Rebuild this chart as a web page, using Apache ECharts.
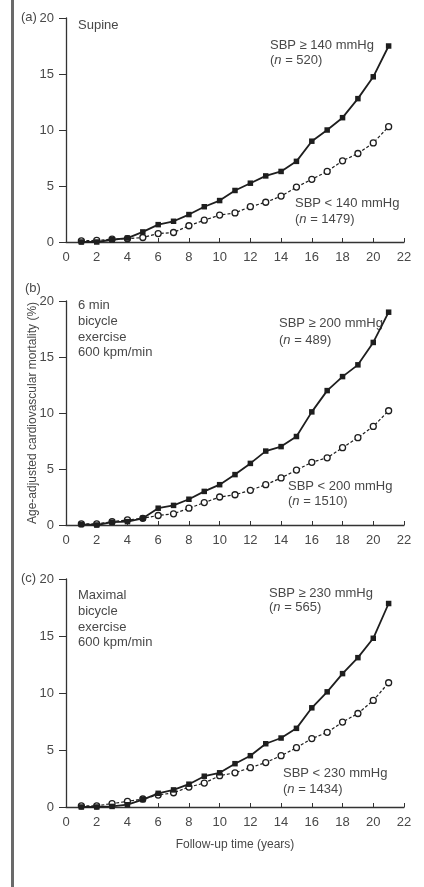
<!DOCTYPE html>
<html>
<head>
<meta charset="utf-8">
<style>
  html, body { margin: 0; padding: 0; background: #fff; }
  #chart { width: 424px; height: 887px; }
</style>
<script src="https://cdn.jsdelivr.net/npm/echarts@6/dist/echarts.min.js"></script>
</head>
<body>
<div id="chart"></div>
<script>
// follow-up years
const years = [1, 2, 3, 4, 5, 6, 7, 8, 9, 10, 11, 12, 13, 14, 15, 16, 17, 18, 19, 20, 21];

// (a) supine
const supineHigh = [0.0, 0.0, 0.2, 0.35, 0.9, 1.55, 1.85, 2.45, 3.15, 3.7, 4.6, 5.25, 5.9, 6.3, 7.2, 9.0, 10.0, 11.1, 12.8, 14.75, 17.5];
const supineLow = [0.1, 0.15, 0.25, 0.3, 0.4, 0.75, 0.85, 1.45, 1.95, 2.4, 2.6, 3.15, 3.55, 4.1, 4.9, 5.6, 6.3, 7.25, 7.9, 8.85, 10.3];

// (b) 6 min bicycle exercise
const sixMinHigh = [0.05, 0.0, 0.25, 0.3, 0.6, 1.5, 1.75, 2.3, 3.0, 3.6, 4.5, 5.5, 6.6, 7.0, 7.9, 10.1, 12.0, 13.25, 14.3, 16.3, 19.0];
const sixMinLow = [0.1, 0.1, 0.3, 0.45, 0.6, 0.85, 1.0, 1.5, 2.0, 2.5, 2.7, 3.1, 3.6, 4.2, 4.9, 5.6, 6.0, 6.9, 7.8, 8.8, 10.2];

// (c) maximal bicycle exercise
const maxHigh = [0.0, 0.0, 0.05, 0.2, 0.65, 1.2, 1.5, 2.0, 2.7, 3.0, 3.8, 4.5, 5.55, 6.05, 6.9, 8.7, 10.1, 11.7, 13.1, 14.8, 17.85];
const maxLow = [0.1, 0.1, 0.3, 0.5, 0.7, 1.05, 1.25, 1.75, 2.1, 2.75, 3.0, 3.45, 3.9, 4.5, 5.2, 6.0, 6.55, 7.45, 8.2, 9.35, 10.9];

const xTicks = { min: 0, max: 22, interval: 2 };
const yTicks = { min: 0, max: 20, interval: 5 };

const font = "Liberation Sans, Arial, sans-serif";
const ink = "#1e1e1e";
const textGray = "#484848";

const pairs = (vals) => years.map((y, i) => [y, vals[i]]);

const grids = [
  { left: 66, right: 20, top: 18, height: 224 },
  { left: 66, right: 20, top: 301, height: 224 },
  { left: 66, right: 20, top: 579, height: 228 },
];

function xAxisFor(i) {
  return {
    type: "value",
    gridIndex: i,
    min: xTicks.min,
    max: xTicks.max,
    interval: xTicks.interval,
    name: i === 2 ? "Follow-up time (years)" : "",
    nameLocation: "middle",
    nameGap: 32,
    nameMoveOverlap: false,
    nameTextStyle: { fontFamily: font, fontSize: 12, color: textGray },
    axisLine: { lineStyle: { color: "#333", width: 1.3 } },
    axisTick: { show: true, inside: true, length: 4, lineStyle: { color: "#333" } },
    axisLabel: { fontFamily: font, fontSize: 13, color: textGray, margin: 9 },
    splitLine: { show: false },
  };
}

function yAxisFor(i) {
  return {
    type: "value",
    gridIndex: i,
    min: yTicks.min,
    max: yTicks.max,
    interval: yTicks.interval,
    name: i === 1 ? "Age-adjusted cardiovascular mortality (%)" : "",
    nameLocation: "middle",
    nameGap: 27,
    nameMoveOverlap: false,
    nameTextStyle: { fontFamily: font, fontSize: 12, color: textGray },
    axisLine: { show: true, lineStyle: { color: "#333", width: 1.3 } },
    axisTick: { show: true, length: 7, lineStyle: { color: "#333" } },
    axisLabel: { fontFamily: font, fontSize: 13, color: textGray, margin: 12 },
    splitLine: { show: false },
  };
}

function highSeries(i, vals) {
  return {
    type: "line",
    xAxisIndex: i,
    yAxisIndex: i,
    data: pairs(vals),
    symbol: "rect",
    symbolSize: 5.5,
    itemStyle: { color: ink },
    lineStyle: { color: ink, width: 1.8 },
    z: 3,
    animation: false,
  };
}

function lowSeries(i, vals) {
  return {
    type: "line",
    xAxisIndex: i,
    yAxisIndex: i,
    data: pairs(vals),
    symbol: "circle",
    symbolSize: 6,
    showAllSymbol: true,
    itemStyle: { color: "#fff", borderColor: ink, borderWidth: 1.3 },
    lineStyle: { color: ink, width: 1.2, type: [3, 2] },
    z: 2,
    animation: false,
  };
}

function txt(x, y, text, extra) {
  return {
    type: "text",
    left: x,
    top: y,
    style: Object.assign({
      text: text,
      fontFamily: font,
      fontSize: 13,
      fill: textGray,
      rich: { i: { fontFamily: font, fontSize: 13, fontStyle: "italic", fill: textGray } },
    }, extra || {}),
  };
}

const option = {
  backgroundColor: "#fff",
  animation: false,
  grid: grids,
  xAxis: [xAxisFor(0), xAxisFor(1), xAxisFor(2)],
  yAxis: [yAxisFor(0), yAxisFor(1), yAxisFor(2)],
  series: [
    highSeries(0, supineHigh), lowSeries(0, supineLow),
    highSeries(1, sixMinHigh), lowSeries(1, sixMinLow),
    highSeries(2, maxHigh), lowSeries(2, maxLow),
  ],
  graphic: [
    { type: "rect", left: 11, top: 0, shape: { width: 3, height: 887 }, style: { fill: "#6a6a6a" } },
    // panel letters
    txt(21, 11, "(a)"),
    txt(25, 282, "(b)"),
    txt(21, 572, "(c)"),
    // (a)
    txt(78, 19, "Supine"),
    txt(270, 39, "SBP \u2265 140 mmHg"),
    txt(270, 54, "({i|n} = 520)"),
    txt(295, 197, "SBP < 140 mmHg"),
    txt(295, 213, "({i|n} = 1479)"),
    // (b)
    txt(78, 298, "6 min\nbicycle\nexercise\n600 kpm/min", { lineHeight: 15.6 }),
    txt(279, 317, "SBP \u2265 200 mmHg"),
    txt(279, 334, "({i|n} = 489)"),
    txt(288, 480, "SBP < 200 mmHg"),
    txt(288, 495, "({i|n} = 1510)"),
    // (c)
    txt(78, 588, "Maximal\nbicycle\nexercise\n600 kpm/min", { lineHeight: 15.6 }),
    txt(269, 587, "SBP \u2265 230 mmHg"),
    txt(269, 601, "({i|n} = 565)"),
    txt(283, 767, "SBP < 230 mmHg"),
    txt(283, 783, "({i|n} = 1434)"),
  ],
};

const chart = echarts.init(document.getElementById("chart"), null, { renderer: "canvas" });
chart.setOption(option);
</script>
</body>
</html>
